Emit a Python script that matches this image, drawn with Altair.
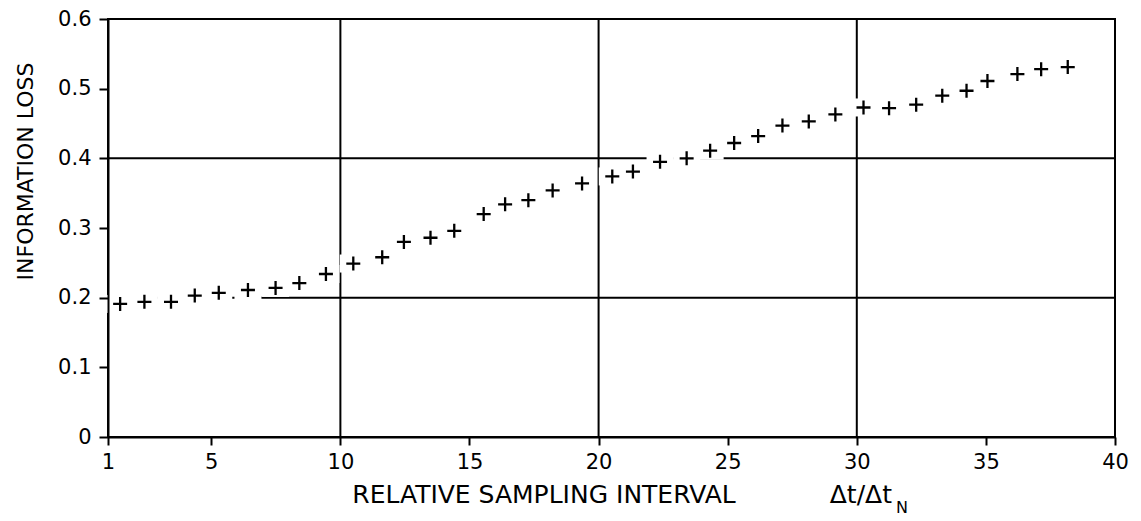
import altair as alt
import pandas as pd

# ---- data ----
x_vals = [1.47, 2.41, 3.44, 4.36, 5.29, 6.42, 7.49, 8.41, 9.44, 10.5,
          11.62, 12.46, 13.49, 14.41, 15.55, 16.38, 17.28, 18.22, 19.36, 20.53,
          21.33, 22.38, 23.41, 24.32, 25.25, 26.18, 27.12, 28.14, 29.17, 30.26,
          31.25, 32.30, 33.31, 34.25, 35.06, 36.22, 37.14, 38.17]
loss_vals = [0.191, 0.194, 0.194, 0.203, 0.207, 0.211, 0.214, 0.221, 0.234, 0.249,
             0.258, 0.280, 0.286, 0.296, 0.320, 0.334, 0.340, 0.354, 0.364, 0.374,
             0.381, 0.395, 0.400, 0.411, 0.422, 0.432, 0.447, 0.453, 0.463, 0.473,
             0.472, 0.477, 0.490, 0.497, 0.511, 0.521, 0.528, 0.531]
x_ticks = [1, 5, 10, 15, 20, 25, 30, 35, 40]
y_ticks = [0, 0.1, 0.2, 0.3, 0.4, 0.5, 0.6]
grid_x = [10, 20, 30]
grid_y = [0.2, 0.4]
y_title = "INFORMATION LOSS"
x_title_main = "RELATIVE SAMPLING INTERVAL"
x_title_ratio = "Δt/Δt"
x_title_sub = "N"

FONT = "DejaVu Sans"
W, H = 1007, 418

df = pd.DataFrame({"x": x_vals, "loss": loss_vals})
gx = pd.DataFrame({"x": grid_x})
gy = pd.DataFrame({"loss": grid_y})

xscale = alt.Scale(domain=[1, 40], nice=False, zero=False)
yscale = alt.Scale(domain=[0, 0.6], nice=False, zero=True)

x_axis = alt.Axis(values=x_ticks, format="d", title=None, grid=False,
                  domainColor="black", domainWidth=2, tickColor="black",
                  tickWidth=2, tickSize=8, labelFont=FONT, labelFontSize=21,
                  labelColor="black", labelPadding=6, labelFlush=False,
                  labelOverlap=False, zindex=1)
y_axis = alt.Axis(values=y_ticks, format="~g", title=y_title, grid=False,
                  domainColor="black", domainWidth=2, tickColor="black",
                  tickWidth=2, tickSize=9, labelFont=FONT, labelFontSize=21,
                  labelColor="black", labelPadding=8, labelFlush=False,
                  labelOverlap=False, titleAngle=270, titleX=-83, titleY=152,
                  titleAlign="center", titleBaseline="middle", titleFont=FONT,
                  titleFontSize=22, titleFontWeight="normal", titleColor="black",
                  zindex=1)

X = alt.X("x:Q", scale=xscale, axis=x_axis)
Y = alt.Y("loss:Q", scale=yscale, axis=y_axis)

vrules = alt.Chart(gx).mark_rule(color="black", strokeWidth=2).encode(x=X)
hrules = alt.Chart(gy).mark_rule(color="black", strokeWidth=2).encode(y=Y)

box_path = "M-1,-0.667L1,-0.667L1,0.667L-1,0.667Z"
plus_path = "M-1,0L1,0M0,-1L0,1"

boxes = alt.Chart(df).mark_point(shape=box_path, size=729, filled=True,
                                 color="white", opacity=1, strokeWidth=0).encode(x=X, y=Y)
pluses = alt.Chart(df).mark_point(shape=plus_path, size=196, filled=False,
                                  color="black", opacity=1, strokeWidth=2.3).encode(x=X, y=Y)

t_main = alt.Chart(pd.DataFrame({"t": [x_title_main]})).mark_text(
    align="center", baseline="alphabetic", font=FONT, fontSize=25, color="black"
).encode(x=alt.value(436), y=alt.value(484), text="t:N")
t_ratio = alt.Chart(pd.DataFrame({"t": [x_title_ratio]})).mark_text(
    align="right", baseline="alphabetic", font=FONT, fontSize=25, color="black"
).encode(x=alt.value(784), y=alt.value(484), text="t:N")
t_sub = alt.Chart(pd.DataFrame({"t": [x_title_sub]})).mark_text(
    align="left", baseline="alphabetic", font=FONT, fontSize=16, color="black"
).encode(x=alt.value(788), y=alt.value(494), text="t:N")

chart = alt.layer(vrules, hrules, boxes, pluses, t_main, t_ratio, t_sub).properties(
    width=W, height=H,
    autosize=alt.AutoSizeParams(type="none"),
    padding={"left": 100, "top": 11, "right": 18, "bottom": 84},
    background="white",
).configure_view(stroke="black", strokeWidth=2)

chart.save("out.html", embed_options={"renderer": "svg", "actions": False})
